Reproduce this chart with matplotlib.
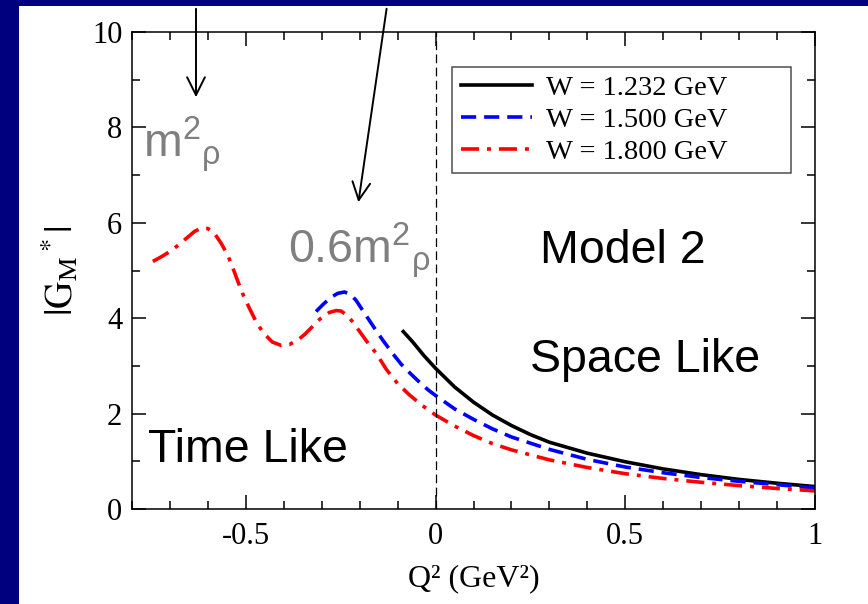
import matplotlib
matplotlib.use('Agg')
from matplotlib import pyplot as plt
from matplotlib.patches import Rectangle
from matplotlib.ticker import MultipleLocator

plt.rcParams['font.family'] = ['Liberation Serif', 'DejaVu Serif']
plt.rcParams['axes.unicode_minus'] = False
plt.rcParams['mathtext.rm'] = 'Liberation Sans'
plt.rcParams['mathtext.it'] = 'Liberation Sans'

# W = 1.232 GeV
q_black = [-0.085, -0.06, -0.03, 0.0, 0.05, 0.1, 0.15, 0.2, 0.25, 0.3, 0.4, 0.5, 0.6, 0.7, 0.8, 0.9, 1.0]
g_black = [3.72, 3.50, 3.21, 2.95, 2.56, 2.24, 1.97, 1.75, 1.56, 1.40, 1.17, 0.99, 0.84, 0.72, 0.62, 0.54, 0.47]

# W = 1.500 GeV
q_blue = [-0.315, -0.295, -0.275, -0.258, -0.24, -0.225, -0.21, -0.195, -0.18, -0.16, -0.14, -0.115, -0.09, -0.065,
          -0.04, -0.02, 0.0, 0.05, 0.1, 0.15, 0.2, 0.3, 0.4, 0.5, 0.6, 0.7, 0.8, 0.9, 1.0]
g_blue = [4.14, 4.30, 4.44, 4.52, 4.55, 4.50, 4.38, 4.20, 4.02, 3.78, 3.55, 3.28, 3.03, 2.83,
          2.64, 2.50, 2.38, 2.10, 1.88, 1.68, 1.51, 1.25, 1.04, 0.88, 0.76, 0.66, 0.58, 0.51, 0.44]

# W = 1.800 GeV
q_red = [-0.745, -0.72, -0.70, -0.675, -0.653, -0.635, -0.617, -0.60, -0.582, -0.565, -0.547, -0.534, -0.52,
         -0.505, -0.49, -0.475, -0.455, -0.43, -0.407, -0.385, -0.363, -0.345, -0.325, -0.305, -0.28, -0.262,
         -0.249, -0.235, -0.22, -0.2, -0.18, -0.156, -0.13, -0.1, -0.07, -0.035, 0.0, 0.05, 0.1, 0.15, 0.2,
         0.3, 0.4, 0.5, 0.6, 0.7, 0.8, 0.9, 1.0]
g_red = [5.19, 5.30, 5.40, 5.55, 5.70, 5.82, 5.89, 5.88, 5.77, 5.57, 5.31, 5.05, 4.75,
         4.45, 4.20, 3.96, 3.70, 3.50, 3.43, 3.45, 3.54, 3.66, 3.82, 3.98, 4.12, 4.16,
         4.15, 4.07, 3.94, 3.72, 3.50, 3.26, 2.93, 2.63, 2.40, 2.17, 1.97, 1.74, 1.54, 1.37, 1.24,
         1.03, 0.87, 0.74, 0.64, 0.56, 0.49, 0.43, 0.38]

labels = ['W = 1.232 GeV', 'W = 1.500 GeV', 'W = 1.800 GeV']

fig = plt.figure(figsize=(8.68, 6.04), dpi=100)
fig.patch.set_facecolor('#00007f')
fig.add_artist(Rectangle((19 / 868, 0), 1, 598 / 604, transform=fig.transFigure,
                         facecolor='white', edgecolor='none', zorder=0))

ax = fig.add_axes([132 / 868, 1 - 509 / 604, 683 / 868, 477 / 604])
ax.set_facecolor('white')

lw = 2.6
ax.plot(q_black, g_black, color='black', lw=lw, label=labels[0])
ax.plot(q_blue, g_blue, color='#0000ff', lw=lw, dashes=(4.2, 2.2), label=labels[1])
ax.plot(q_red, g_red, color='#ff0000', lw=lw, dashes=(5, 2.2, 1.1, 2.2), label=labels[2])
ax.axvline(0, color='black', lw=0.9, dashes=(7, 3.5))

ax.set_xlim(-0.8, 1)
ax.set_ylim(0, 10)
ax.xaxis.set_minor_locator(MultipleLocator(0.1))
ax.yaxis.set_major_locator(MultipleLocator(2))
ax.yaxis.set_minor_locator(MultipleLocator(1))
ax.set_xticks([-0.5, 0, 0.5, 1])
ax.set_xticklabels(['-0.5', '0', '0.5', '1'])
ax.tick_params(which='both', direction='in', top=True, right=True, width=1.1, labelsize=22)
ax.tick_params(which='major', length=10)
ax.tick_params(which='minor', length=5.5)
ax.tick_params(axis='y', pad=7)
ax.tick_params(axis='x', pad=9)
for s in ax.spines.values():
    s.set_linewidth(1.1)

ax.set_xlabel('Q² (GeV²)', fontsize=23, labelpad=10)
ax.set_ylabel(r'$|\mathrm{G_M}^*|$', fontsize=27, math_fontfamily='stix', labelpad=8)

leg = ax.legend(loc='upper left', bbox_to_anchor=(0.469, 0.707, 0.496, 0.22), mode='expand',
                fontsize=20.5, frameon=True, fancybox=False, borderaxespad=0, borderpad=0.3,
                labelspacing=0.2, handlelength=2.5, handletextpad=0.5)
leg.get_frame().set_edgecolor('#222222')
leg.get_frame().set_linewidth(1.1)

sans = ['Liberation Sans', 'DejaVu Sans']
ax.text(0.274, 5.16, 'Model 2', family=sans, fontsize=33.5, color='black')
ax.text(0.248, 2.87, 'Space Like', family=sans, fontsize=33.5, color='black')
ax.text(-0.759, 0.99, 'Time Like', family=sans, fontsize=33.5, color='black')
ax.text(-0.39, 5.16, r'$\mathrm{0.6m}^{2}{}_{\rho}$', family=sans, math_fontfamily='custom',
        fontsize=33.5, color='#7f7f7f')
ax.text(-0.772, 7.38, r'$\mathrm{m}^{2}{}_{\rho}$', family=sans, math_fontfamily='custom',
        fontsize=33.5, color='#7f7f7f')

arrow = dict(arrowstyle='->', lw=1.4, color='black', mutation_scale=32)
ax.annotate('', xy=(196, 604 - 100), xytext=(196, 604 - 6), xycoords='figure pixels',
            textcoords='figure pixels', arrowprops=arrow, annotation_clip=False)
ax.annotate('', xy=(358, 604 - 205), xytext=(387, 604 - 6), xycoords='figure pixels',
            textcoords='figure pixels', arrowprops=arrow, annotation_clip=False)

fig.savefig('out.png', dpi=100, facecolor=fig.get_facecolor())
